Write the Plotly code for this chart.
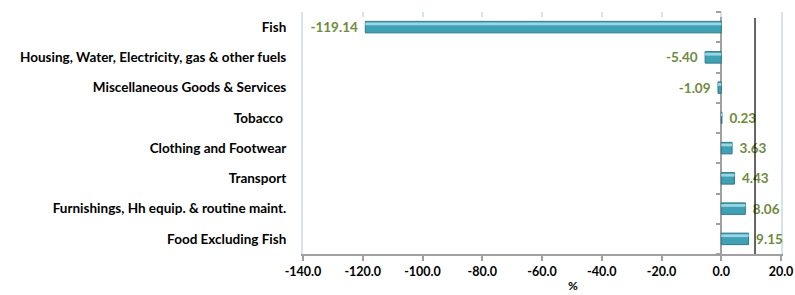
import plotly.graph_objects as go

categories = ["Fish", "Housing, Water, Electricity, gas & other fuels",
              "Miscellaneous Goods & Services", "Tobacco ",
              "Clothing and Footwear", "Transport",
              "Furnishings, Hh equip. & routine maint.", "Food Excluding Fish"]
values = [-119.14, -5.40, -1.09, 0.23, 3.63, 4.43, 8.06, 9.15]
x_ticks = [-140, -120, -100, -80, -60, -40, -20, 0, 20]
x_tick_labels = ["%.1f" % v for v in x_ticks]

FONT = "Lato"
label_color = "#6F8A3C"
PAD = "\u2004"
bar_text = [("<b>%.2f</b>%s" % (v, PAD)) if v < 0 else ("%s<b>%.2f</b>" % (PAD, v))
            for v in values]

fig = go.Figure()
fig.add_trace(go.Bar(
    y=categories, x=values, orientation="h", width=0.38, offset=-0.19,
    marker=dict(color="#40A1B5", line=dict(color="#2A7A8C", width=1)),
    text=bar_text, textposition="outside",
    textfont=dict(family=FONT, size=13.5, color=label_color),
    constraintext="none",
    cliponaxis=False, showlegend=False, hoverinfo="skip"))
# light highlight stripe along the top of each bar
fig.add_trace(go.Bar(
    y=categories, x=values, orientation="h", width=0.09, offset=-0.15,
    marker=dict(color="#9AD6E2", line=dict(width=0)),
    cliponaxis=False, showlegend=False, hoverinfo="skip"))
# dummy trace to host the zero-line ticks and top ticks
fig.add_trace(go.Scatter(x=[None], y=[None], xaxis="x2", yaxis="y2",
                         showlegend=False, hoverinfo="skip"))

n = len(categories)
fig.update_layout(
    width=795, height=295,
    margin=dict(l=303, r=14, t=12, b=41),
    paper_bgcolor="white", plot_bgcolor="white",
    barmode="overlay",
    font=dict(family=FONT, size=12, color="black"),
    xaxis=dict(range=[-140, 20], tickvals=x_ticks,
               ticktext=["<b>%s</b>" % t for t in x_tick_labels],
               automargin=False,
               showgrid=False, zeroline=True, zerolinecolor="#A0A0A0", zerolinewidth=2,
               showline=True, linecolor="#A0A0A0", linewidth=2,
               ticks="outside", ticklen=5, tickwidth=2, tickcolor="#A0A0A0",
               tickfont=dict(family=FONT, size=12.5, color="black"),
               fixedrange=True),
    yaxis=dict(range=[n - 0.5, -0.5], automargin=False,
               tickmode="array", tickvals=categories,
               ticktext=["<b>%s</b>" % c for c in categories],
               showgrid=False, zeroline=False, layer="below traces",
               showline=True, mirror=True, linecolor="#D6E4E8", linewidth=2,
               ticks="", ticklabelstandoff=12,
               tickfont=dict(family=FONT, size=13.5, color="black")),
    xaxis2=dict(overlaying="x", side="top", range=[-140, 20], tickvals=x_ticks,
                automargin=False,
                showticklabels=False, ticks="inside", ticklen=5, tickwidth=2,
                tickcolor="#D6E4E8", showgrid=False, zeroline=False, showline=False),
    yaxis2=dict(overlaying="y", anchor="free", position=140/160, range=[n - 0.5, -0.5],
                automargin=False,
                tickvals=[i + 0.5 for i in range(-1, n)], showticklabels=False,
                ticks="outside", ticklen=5, tickwidth=2, tickcolor="#A0A0A0",
                showgrid=False, zeroline=False, showline=False),
)
fig.add_shape(type="line", xref="x", yref="paper", x0=11.3, x1=11.3, y0=0, y1=0.975,
              line=dict(color="black", width=1.2))
fig.add_annotation(text="<b>%</b>", xref="paper", yref="paper", x=0.565, y=-0.167,
                   yanchor="bottom", showarrow=False, borderpad=0,
                   font=dict(family=FONT, size=12, color="black"))
fig.write_html("out.html", config={"displayModeBar": False},
               post_script="document.body.style.margin='0';"
                           "document.documentElement.style.overflow='hidden';"
                           "document.body.style.overflow='hidden';")
